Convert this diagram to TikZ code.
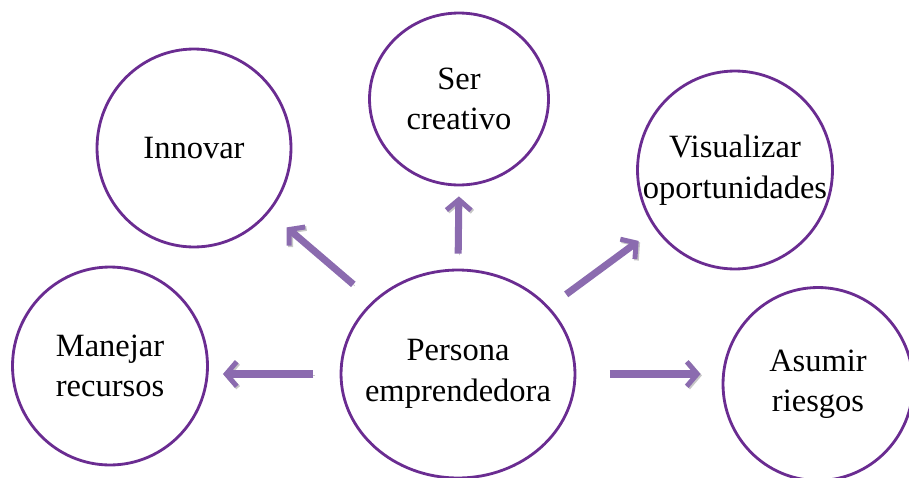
\documentclass[tikz,border=0pt]{standalone}
\usepackage{fontspec}
\setmainfont{Liberation Serif}
\usetikzlibrary{shapes.geometric,arrows.meta}
\definecolor{ringpurple}{HTML}{6A2C91}
\definecolor{arrowpurple}{HTML}{8B6BAF}

\begin{document}
\begin{tikzpicture}[
    x=0.02cm, y=-0.02cm,
    idea/.style={ellipse, draw=ringpurple, line width=1.6pt, inner sep=0pt,
        label={[align=center, font=\fontsize{18.5}{23}\selectfont]center:#1}},
    arrow/.style={-{Straight Barb[length=6pt,width=14pt,line width=2.8pt]}, line width=4pt, draw=arrowpurple, shorten <=14pt, shorten >=10pt,
        preaction={draw=black!22, transform canvas={shift={(0.8pt,-0.8pt)}}}}
]
\useasboundingbox (0,0) rectangle (909,477);

% Central idea
\node[idea={Persona\\emprendedora}, minimum width=4.68cm, minimum height=4.16cm] (persona) at (458,374) {};

% Surrounding ideas
\node[idea={Innovar}, minimum width=3.88cm, minimum height=3.96cm] (innovar) at (194,148) {};
\node[idea={Ser\\creativo}, minimum width=3.58cm, minimum height=3.44cm] (creativo) at (459,99) {};
\node[idea={Visualizar\\oportunidades}, minimum width=3.9cm, minimum height=3.96cm] (visualizar) at (735,170) {};
\node[idea={Manejar\\recursos}, minimum width=3.9cm, minimum height=3.96cm] (manejar) at (110,366) {};
\node[idea={Asumir\\riesgos}, minimum width=3.8cm, minimum height=3.86cm] (asumir) at (818,384) {};

% Arrows
\draw[arrow, shorten <=14.5pt, shorten >=13pt] (persona) -- (innovar);
\draw[arrow, shorten <=8.5pt, shorten >=5.7pt] (persona.north) -- (creativo.south);
\draw[arrow, shorten <=12pt, shorten >=11.5pt] (persona) -- (visualizar);
\draw[arrow, shorten <=15pt, shorten >=8pt] (persona.west) -- (manejar.east |- persona.west);
\draw[arrow, shorten <=19pt, shorten >=12pt] (persona.east) -- (asumir.west |- persona.east);

\end{tikzpicture}
\end{document}
